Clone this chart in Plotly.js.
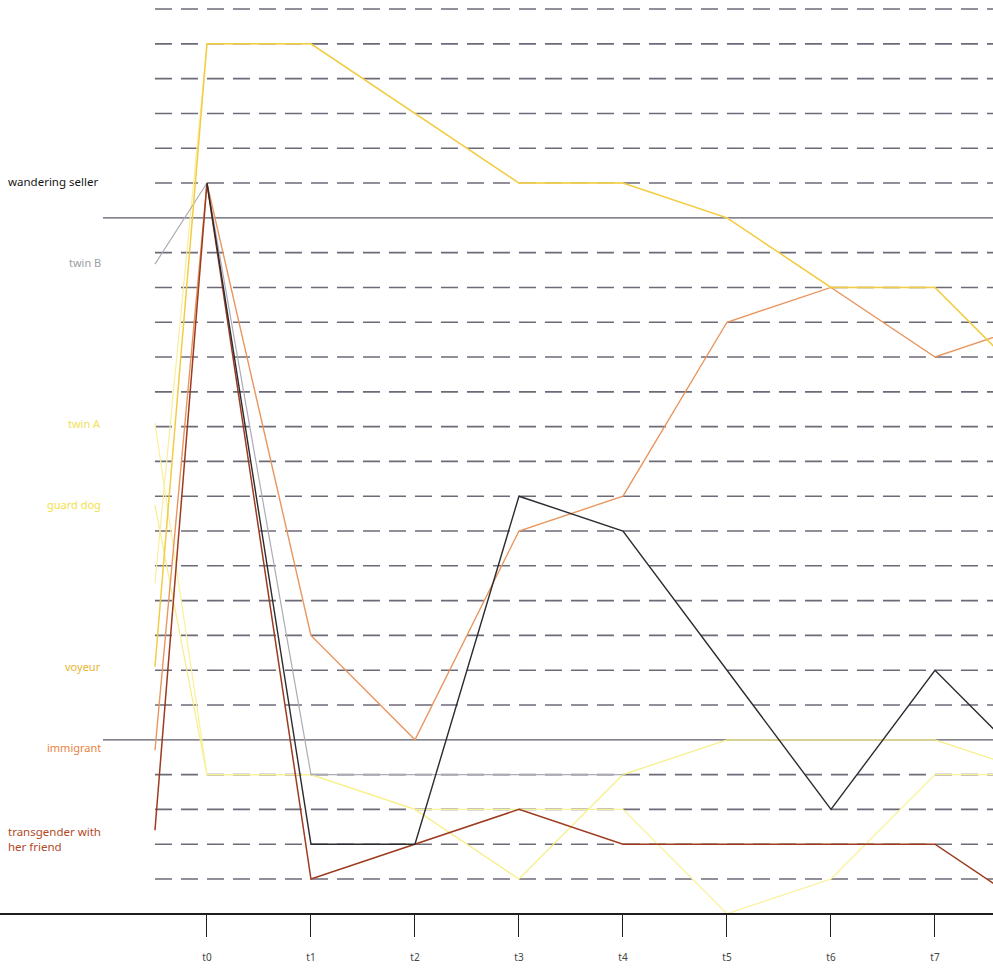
<!DOCTYPE html>
<html>
<head>
<meta charset="utf-8">
<script src="https://cdn.plot.ly/plotly-3.0.1.min.js"></script>
<style>
html,body{margin:0;padding:0;background:#fff;}
#chart{width:993px;height:969px;}
</style>
</head>
<body>
<div id="chart"></div>
<script>
// ---- data ----
const tickLabels = ["t0","t1","t2","t3","t4","t5","t6","t7"];
const tickPositions = [0,1,2,3,4,5,6,7];
const stepX = [-0.5,0,1,2,3,4,5,6,7,8];

const faintYellow     = [8.5, 24, 24, 22, 20, 20, 19, 17, 17, 14];
const guardDog        = [10.75, 3, 3, 2, 0, 3, 4, 4, 4, 3];
const twinA           = [13.1, 3, 3, 2, 2, 2, -1, 0, 3, 3];
const twinB           = [17.67, 20, 3, 3, 3, 3, null, null, null, null];
const immigrant       = [3.7, 20, 7, 4, 10, 11, 16, 17, 15, 16];
const voyeur          = [6.1, 24, 24, 22, 20, 20, 19, 17, 17, 14];
const transgender     = [1.4, 20, 0, 1, 2, 1, 1, 1, 1, -1];
const wanderingSeller = [null, 20, 1, 1, 11, 10, 6, 2, 6, 3];

const labelTexts  = ["wandering seller","twin B","twin A","guard dog","voyeur","immigrant","transgender with<br>her friend"];
const labelLevels = [20.03, 17.73, 13.1, 10.75, 6.12, 3.79, 1.15];

const dashedLevels = [0,1,2,3,5,6,7,8,9,10,11,12,13,14,15,16,17,18,20,21,22,23,24,25];
const solidLevels  = [4,19];

// ---- styles ----
const seriesDefs = [
  {name:"faint", y:faintYellow, color:"#f8ee9e", w:1.2},
  {name:"guard dog", y:guardDog, color:"#f7ee86", w:1.2},
  {name:"twin A", y:twinA, color:"#f9f196", w:1.2},
  {name:"twin B", y:twinB, color:"#acacb6", w:1.2},
  {name:"immigrant", y:immigrant, color:"#e9965e", w:1.4},
  {name:"voyeur", y:voyeur, color:"#f3cc45", w:1.5},
  {name:"transgender with her friend", y:transgender, color:"#9c3b1f", w:1.5},
  {name:"wandering seller", y:wanderingSeller, color:"#2b2b30", w:1.4}
];
const labelColors = ["#151515","#9d9da6","#f1df52","#f2e04a","#e8b630","#e8823c","#b2491f"];

const traces = seriesDefs.map(s => ({
  type:"scatter", mode:"lines", x:stepX, y:s.y, name:s.name,
  line:{color:s.color, width:s.w}, connectgaps:false, hoverinfo:"skip"
}));

const shapes = [];
dashedLevels.forEach(l => shapes.push({
  type:"line", xref:"x", yref:"y", x0:-0.5, x1:7.56, y0:l, y1:l, layer:"below",
  line:{color:"#6d6a78", width:1.6, dash:"17px,9px"}
}));
solidLevels.forEach(l => shapes.push({
  type:"line", xref:"x", yref:"y", x0:-1.0, x1:7.56, y0:l, y1:l, layer:"below",
  line:{color:"#5c5a68", width:1.3}
}));

const leftAligned = [0, 6];
const annotations = labelTexts.map((t,i) => {
  const left = leftAligned.indexOf(i) >= 0;
  return {
    x: left ? -1.99 : -1.0,
    xanchor: left ? "left" : "right",
    y: labelLevels[i], yanchor:"middle", xref:"x", yref:"y",
    text:t, showarrow:false, align:"left",
    font:{family:"Noto Sans, Lato, sans-serif", size: left ? 11.5 : 11, color:labelColors[i]},
    xshift: left ? 6 : 0
  };
});

const layout = {
  width:993, height:969, autosize:false,
  margin:{l:0, r:0, t:0, b:56, pad:0},
  paper_bgcolor:"#ffffff", plot_bgcolor:"#ffffff",
  showlegend:false,
  xaxis:{
    range:[-1.99, 7.558], showgrid:false, zeroline:false,
    showline:true, linecolor:"#1e1e1e", linewidth:1.6,
    tickmode:"array", tickvals:tickPositions, ticktext:tickLabels,
    ticks:"outside", ticklen:22, tickwidth:1, tickcolor:"#1e1e1e",
    ticklabelstandoff:12,
    tickfont:{family:"Noto Sans, Lato, sans-serif", size:10, color:"#444"}
  },
  yaxis:{range:[-0.977, 25.26], visible:false, showgrid:false, zeroline:false, fixedrange:true},
  shapes:shapes,
  annotations:annotations
};

Plotly.newPlot("chart", traces, layout, {displayModeBar:false, staticPlot:true});
</script>
</body>
</html>
